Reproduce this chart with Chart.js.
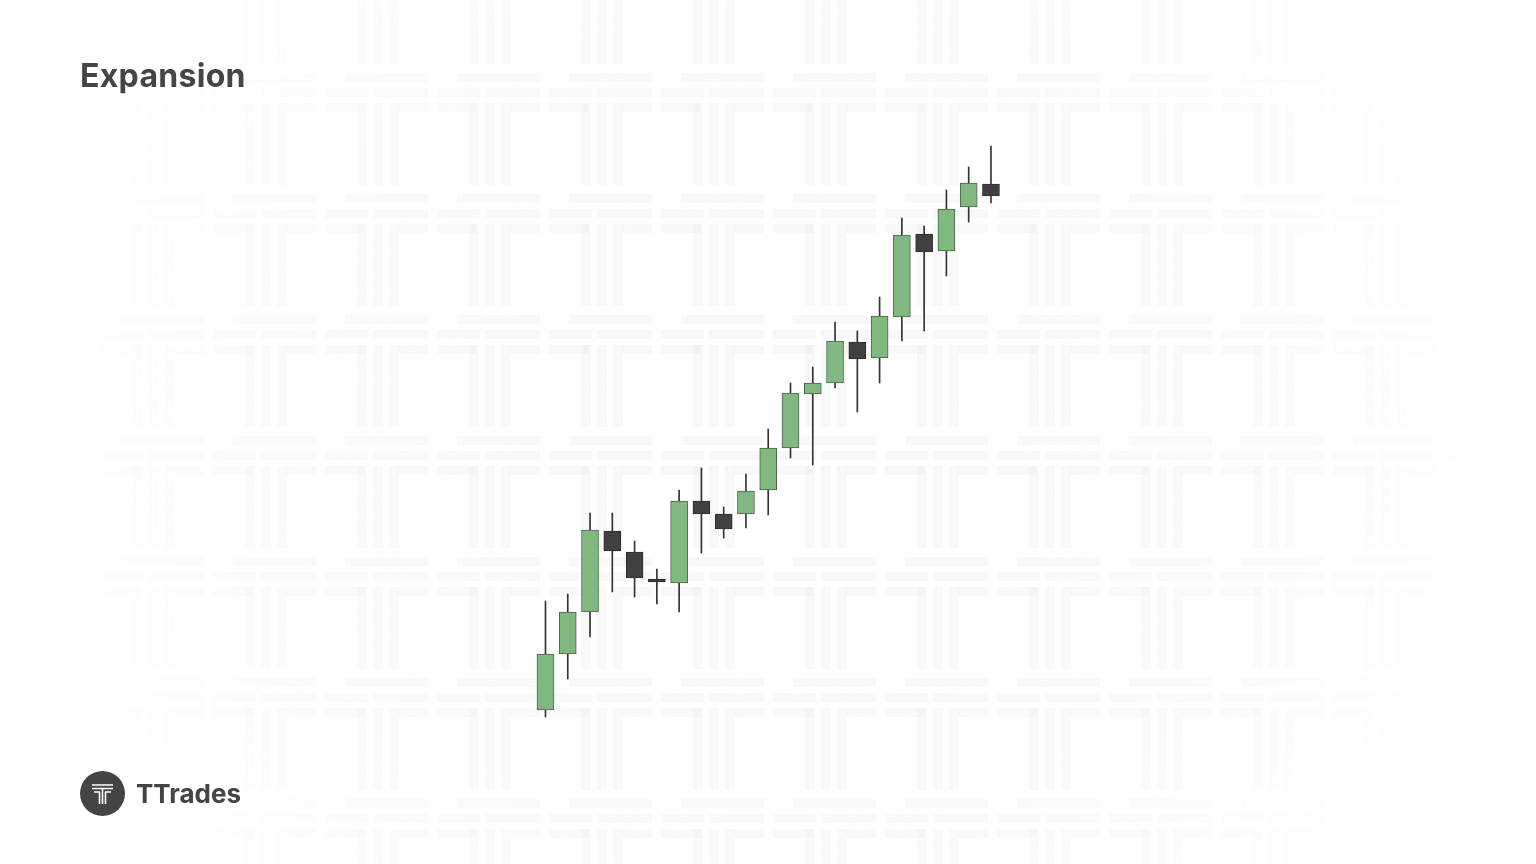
<!DOCTYPE html>
<html>
<head>
<meta charset="utf-8">
<script src="https://cdn.jsdelivr.net/npm/chart.js@4"></script>
<style>
  html, body { margin: 0; padding: 0; background: #ffffff; overflow: hidden; }
  #wrap { position: relative; width: 1536px; height: 864px; }
  #chart { position: absolute; left: 0; top: 0; }
  .title {
    position: absolute; left: 80px; top: 56px;
    font-family: Inter, "Noto Sans", sans-serif; font-weight: 700;
    font-size: 32px; color: #454545; letter-spacing: 0.3px;
  }
  .brand {
    position: absolute; left: 80px; top: 770px; height: 46px;
    display: flex; align-items: center;
  }
  .brand span {
    margin-left: 11px;
    font-family: Inter, "Noto Sans", sans-serif; font-weight: 700;
    font-size: 26px; color: #444444; letter-spacing: 0px;
  }
</style>
</head>
<body>
<div id="wrap">
  <canvas id="chart" width="1536" height="864"></canvas>
  <div class="title">Expansion</div>
  <div class="brand">
    <svg width="45" height="45" viewBox="0 0 45 45">
      <circle cx="22.5" cy="22.5" r="22.5" fill="#444444"/>
      <g fill="none" stroke="#ffffff" stroke-width="1.6">
        <path d="M12 14 H33 M12 17.5 H33 M14 21 H20 M25 21 H31"/>
        <path d="M19.5 21 V33 M22.5 17.5 V33 M25.5 21 V33"/>
      </g>
    </svg>
    <span>TTrades</span>
  </div>
</div>
<script>
// candle index (time) and OHLC values
const candleIndex = [0, 1, 2, 3, 4, 5, 6, 7, 8, 9, 10, 11, 12, 13, 14, 15, 16, 17, 18, 19, 20];
const openPrices  = [190, 246, 288, 369, 348, 321, 317, 399, 386, 386, 410, 452, 506, 517, 558, 542, 583, 666, 649, 693, 716];
const highPrices  = [299, 306, 387, 387, 359, 331, 410, 432, 393, 426, 471, 517, 533, 578, 569, 603, 682, 674, 710, 733, 754];
const lowPrices   = [183, 221, 263, 308, 303, 296, 288, 347, 362, 372, 385, 442, 435, 512, 488, 517, 559, 569, 624, 678, 697];
const closePrices = [246, 288, 370, 349, 322, 318, 399, 386, 371, 409, 452, 507, 517, 559, 541, 584, 665, 648, 691, 717, 704];

const UP_FILL = '#80b880';
const UP_BORDER = '#4d634c';
const DOWN_FILL = '#404040';
const DOWN_BORDER = '#2e2e2e';
const WICK = '#333333';

const isUp = i => closePrices[i] >= openPrices[i];

const bodies = candleIndex.map((x, i) => ({ x: x, y: [openPrices[i], closePrices[i]] }));
const wicks = candleIndex.map((x, i) => ({ x: x, y: [lowPrices[i], highPrices[i]] }));

// faint tiled "T" watermark behind the chart
const watermark = {
    id: 'watermark',
    beforeDraw(chart) {
        const ctx = chart.ctx;
        const w = chart.width, h = chart.height;
        ctx.save();
        ctx.fillStyle = 'rgba(0,0,0,0.026)';
        for (let oy = 73 - 121 * 1; oy < h; oy += 121) {
            for (let ox = 437 - 112 * 4; ox < w; ox += 112) {
                // top bar stripes
                ctx.fillRect(ox + 20, oy, 83, 9);
                ctx.fillRect(ox, oy + 15, 43, 9);
                ctx.fillRect(ox + 48, oy + 15, 55, 9);
                ctx.fillRect(ox, oy + 30, 40, 9);
                ctx.fillRect(ox + 73, oy + 30, 30, 9);
                // stem stripes
                ctx.fillRect(ox + 32, oy + 30, 10, 82);
                ctx.fillRect(ox + 48, oy + 30, 10, 82);
                ctx.fillRect(ox + 64, oy + 30, 10, 82);
            }
        }
        const g = ctx.createRadialGradient(w / 2, h / 2, 120, w / 2, h / 2, 780);
        g.addColorStop(0, 'rgba(255,255,255,0)');
        g.addColorStop(0.5, 'rgba(255,255,255,0.25)');
        g.addColorStop(0.85, 'rgba(255,255,255,0.85)');
        g.addColorStop(1, 'rgba(255,255,255,1)');
        ctx.fillStyle = g;
        ctx.fillRect(0, 0, w, h);
        ctx.restore();
    }
};

new Chart(document.getElementById('chart'), {
    type: 'bar',
    data: {
        datasets: [
            {
                label: 'Wick',
                data: wicks,
                backgroundColor: WICK,
                borderWidth: 0,
                barThickness: 1,
                grouped: false,
                order: 2
            },
            {
                label: 'Body',
                data: bodies,
                backgroundColor: ctx => isUp(ctx.dataIndex) ? UP_FILL : DOWN_FILL,
                borderColor: ctx => isUp(ctx.dataIndex) ? UP_BORDER : DOWN_BORDER,
                borderWidth: 1,
                borderSkipped: false,
                barThickness: 17,
                grouped: false,
                order: 1
            }
        ]
    },
    options: {
        responsive: false,
        animation: false,
        layout: { padding: 0 },
        scales: {
            x: {
                type: 'linear',
                display: false,
                min: -24.49,
                max: 44.47,
                offset: false
            },
            y: {
                type: 'linear',
                display: false,
                min: 36,
                max: 900,
                bounds: 'data'
            }
        },
        plugins: {
            legend: { display: false },
            tooltip: { enabled: false }
        }
    },
    plugins: [watermark]
});
</script>
</body>
</html>
